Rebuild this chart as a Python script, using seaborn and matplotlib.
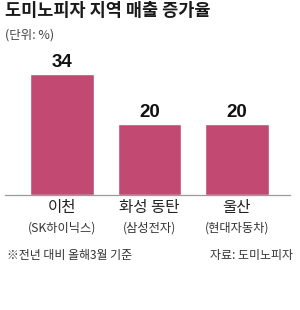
import matplotlib
matplotlib.use("Agg")
import matplotlib.pyplot as plt
import seaborn as sns
import pandas as pd

# Data
regions = ["이천", "화성 동탄", "울산"]
companies = ["(SK하이닉스)", "(삼성전자)", "(현대자동차)"]
growth = [34, 20, 20]

title = "도미노피자 지역 매출 증가율"
unit = "(단위: %)"
note = "※전년 대비 올해3월 기준"
source = "자료: 도미노피자"

sns.set_theme(style="white")
plt.rcParams['font.family'] = ['Noto Sans CJK KR', 'DejaVu Sans']

W, H = 300, 310
fig = plt.figure(figsize=(W / 100, H / 100), dpi=100)
fig.patch.set_facecolor("white")

ax = fig.add_axes([5 / W, 1 - 195 / H, 285 / W, 135 / H])
df = pd.DataFrame({"region": regions, "growth": growth})
sns.barplot(data=df, x="region", y="growth", color="#C24A72", saturation=1,
            width=0.73, ax=ax)

ax.set_xlim(-0.651, 2.606)
ax.set_ylim(0, 38)
ax.set_xlabel("")
ax.set_ylabel("")
ax.set_yticks([])
ax.tick_params(axis="x", length=0)
ax.set_xticklabels([])
for s in ["top", "right", "left"]:
    ax.spines[s].set_visible(False)
ax.spines["bottom"].set_color("#9a9a9a")
ax.spines["bottom"].set_linewidth(0.9)
ax.set_facecolor("white")

for cont in ax.containers:
    ax.bar_label(cont, labels=[f"{v:g}" for v in growth], padding=2,
                 fontsize=13.5, fontweight="bold", color="#111111",
                 family=["Liberation Sans", "DejaVu Sans"])

tr = ax.get_xaxis_transform()
for t, r, c in zip(ax.get_xticks(), regions, companies):
    ax.text(t, (195 - 207.5) / 135, r, transform=tr, ha="center", va="center",
            fontsize=11.2, color="#222222")
    ax.text(t, (195 - 228) / 135, c, transform=tr, ha="center", va="center",
            fontsize=8.8, color="#333333")

fig.text(5 / W, 1 - 10.5 / H, title, ha="left", va="center", fontsize=12.6,
         fontweight="bold", color="#1a1a1a")
fig.text(5 / W, 1 - 35 / H, unit, ha="left", va="center", fontsize=9,
         color="#444444")
fig.text(7 / W, 1 - 255 / H, note, ha="left", va="center", fontsize=8.6,
         color="#333333")
fig.text(293 / W, 1 - 255 / H, source, ha="right", va="center", fontsize=8.6,
         color="#333333")

fig.savefig("out.png", dpi=100, facecolor="white")
